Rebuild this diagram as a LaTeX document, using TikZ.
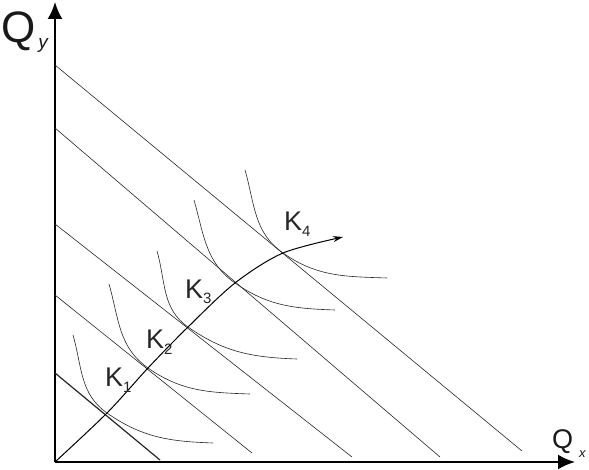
\documentclass[tikz,border=0pt]{standalone}
\usepackage{fontspec}
\setmainfont{Liberation Sans}
\usetikzlibrary{positioning,arrows.meta}
\tikzset{
  axisline/.style={line width=2.2pt, -{Latex[length=17pt,width=15pt]}},
  budget/.style={line width=0.6pt, black!85},
  isoquant/.style={line width=0.6pt, black!85},
  pathline/.style={line width=1pt, -{Stealth[length=10pt,width=6pt]}},
  klabel/.style={anchor=base west, inner sep=0pt, text=black!85, font=\fontsize{27}{27}\selectfont},
  axislabel/.style={anchor=base west, inner sep=0pt, text=black!90}
}
\newcommand{\ksub}[1]{\raisebox{-6pt}{\fontsize{15}{15}\selectfont #1}}

\begin{document}
\begin{tikzpicture}[x=1pt,y=1pt]
  \useasboundingbox (0,0) rectangle (589,469);
  % axes
  \coordinate (O) at (55,7);
  \coordinate (ytip) at (55,467);
  \coordinate (xtip) at (575,7);
  \draw[axisline] (O) -- (ytip);
  \draw[axisline] (O) -- (xtip);
  % budget lines
  \coordinate (L1a) at (55,404); \coordinate (L1b) at (522,18);
  \coordinate (L2a) at (55,341); \coordinate (L2b) at (440,12);
  \coordinate (L3a) at (55,245); \coordinate (L3b) at (352,12);
  \coordinate (L4a) at (55,174); \coordinate (L4b) at (252,16);
  \coordinate (L5a) at (55,96);  \coordinate (L5b) at (160,9);
  \foreach \i in {1,...,4}
    \draw[budget] (L\i a) -- (L\i b);
  \draw[budget, line width=1.2pt] (L5a) -- (L5b);
  % tangency points
  \coordinate (P1) at (107,56);
  \coordinate (P2) at (148,101);
  \coordinate (P3) at (188,142);
  \coordinate (P4) at (235,186);
  \coordinate (P5) at (283,216);
  \coordinate (tip) at (343,232);
  % isoquants
  \foreach \i/\sx/\sy/\ex/\ey in {1/73/134/213/26, 2/109/185/250/75, 3/157/218/297/110, 4/194/269/335/159, 5/245/299/387/191}
    \draw[isoquant] (\sx,\sy) to[out=-74,in=145] (P\i) to[out=-35,in=178] (\ex,\ey);
  % expansion path
  \draw[pathline] plot[smooth] coordinates {(O) (P1) (P2) (P3) (P4) (P5) (tip)};
  % labels
  \node[klabel] (K1) at (105,83) {K\ksub{1}};
  \node[klabel] (K2) at (146,121) {K\ksub{2}};
  \node[klabel] (K3) at (185,171) {K\ksub{3}};
  \node[klabel] (K4) at (284,238) {K\ksub{4}};
  \node[axislabel, font=\fontsize{44}{44}\selectfont] (Qy) at (1,426) {Q\hspace{3pt}\raisebox{-6pt}{\fontsize{19}{19}\selectfont\itshape y}};
  \node[axislabel, font=\fontsize{27}{27}\selectfont] (Qx) at (552,21) {Q\hspace{6pt}\raisebox{-9pt}{\fontsize{13}{13}\selectfont\itshape x}};
\end{tikzpicture}
\end{document}
